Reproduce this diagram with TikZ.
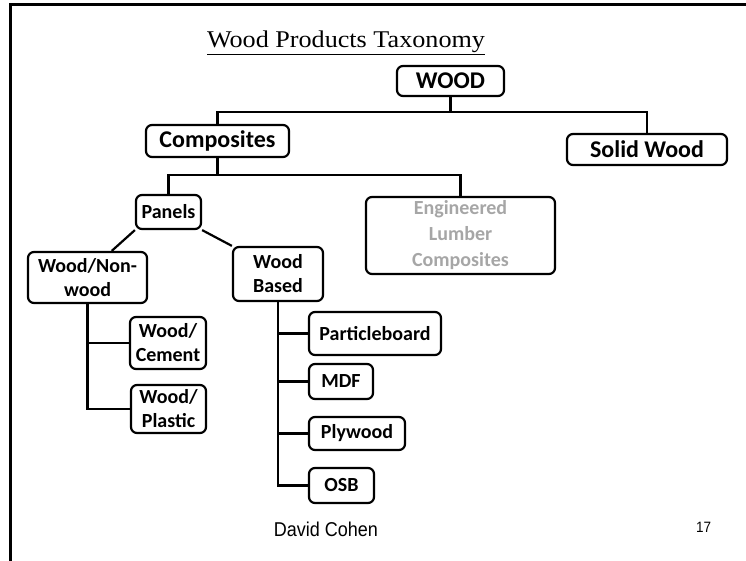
\documentclass[tikz,border=0pt]{standalone}
\usepackage{fontspec}
\setmainfont{Carlito}
\newfontfamily\titlefont[FakeStretch=1.09]{Liberation Serif}
\newfontfamily\footfont[FakeStretch=0.9]{Liberation Sans}
\usetikzlibrary{positioning, calc}
\definecolor{LumberGray}{HTML}{A6A6A6}

\tikzset{
  taxbox/.style={draw, line width=2.2pt, rounded corners=6pt, align=center,
                 inner sep=2pt, font=\bfseries\fontsize{20}{24}\selectfont},
  upper/.style={taxbox, font=\bfseries\fontsize{24}{28}\selectfont},
  link/.style={line width=2.2pt},
}

\begin{document}
\begin{tikzpicture}[x=1pt, y=-1pt]
\useasboundingbox (0,0) rectangle (746,561);
\draw[line width=3pt] (746,4.5) -- (10,4.5) -- (10,561);

\node[anchor=base] (title) at (346,48)
    {\titlefont\fontsize{24}{28}\selectfont\underline{Wood Products Taxonomy}};

% top levels
\node[upper, minimum width=107pt, minimum height=30pt] (wood) at (450.5,81) {WOOD};
\node[upper, minimum width=143pt, minimum height=32pt] (comp) at (217.5,141) {Composites};
\node[upper, minimum width=160pt, minimum height=31pt] (solid) at (647,149.5) {Solid Wood};

% composites
\node[taxbox, minimum width=65pt, minimum height=34pt] (panels) at (168.5,212) {Panels};
\node[taxbox, text=LumberGray, font=\bfseries\fontsize{20}{25}\selectfont,
      minimum width=189pt, minimum height=73pt, inner sep=0pt] (eng) at (460.5,235.5)
    {\raisebox{-3pt}{\begin{tabular}{@{}c@{}}Engineered\\[1pt]Lumber\\[1pt]Composites\end{tabular}}};

% panels
\node[taxbox, minimum width=119pt, minimum height=51pt] (wnw) at (87.5,277.5) {Wood/Non-\\wood};
\node[taxbox, minimum width=90pt, minimum height=54pt] (wb) at (278,274) {Wood\\Based};

\node[taxbox, minimum width=76pt, minimum height=52pt] (cement) at (168,343) {Wood/\\Cement};
\node[taxbox, minimum width=75pt, minimum height=48pt] (plastic) at (168.5,409) {Wood/\\Plastic};

\node[taxbox, minimum width=132pt, minimum height=43pt] (pboard) at (375,333.5) {Particleboard};
\node[taxbox, minimum width=64pt, minimum height=35pt] (mdf) at (341,381.5) {MDF};
\node[taxbox, minimum width=96pt, minimum height=33pt] (ply) at (357,433.5) {Plywood};
\node[taxbox, minimum width=65pt, minimum height=35pt] (osb) at (341.5,485.5) {OSB};

% connectors
\coordinate (woodsplit) at (450.5,112);
\coordinate (compsplit) at (217.5,175);
\draw[link] (wood.south) -- (woodsplit);
\draw[link] (comp.north) |- (woodsplit) -| (solid.north);
\draw[link] (comp.south) -- (compsplit);
\draw[link] (panels.north) |- (compsplit) -| (eng.north);

\draw[link] (panels.south west) -- ($(wnw.north west)!0.7!(wnw.north east)$);
\draw[link] (panels.south east) -- (wb.north west);

\draw[link] (wnw.south) |- (cement.west);
\draw[link] (wnw.south) |- (plastic.west);
\foreach \leaf in {pboard, mdf, ply, osb}
    \draw[link] (wb.south) |- (\leaf.west);

% footer
\node[font=\footfont\fontsize{20}{24}\selectfont] (author) at (326,529) {David Cohen};
\node[font=\footfont\fontsize{15}{18}\selectfont] (page) at (703.5,527) {17};
\end{tikzpicture}
\end{document}
